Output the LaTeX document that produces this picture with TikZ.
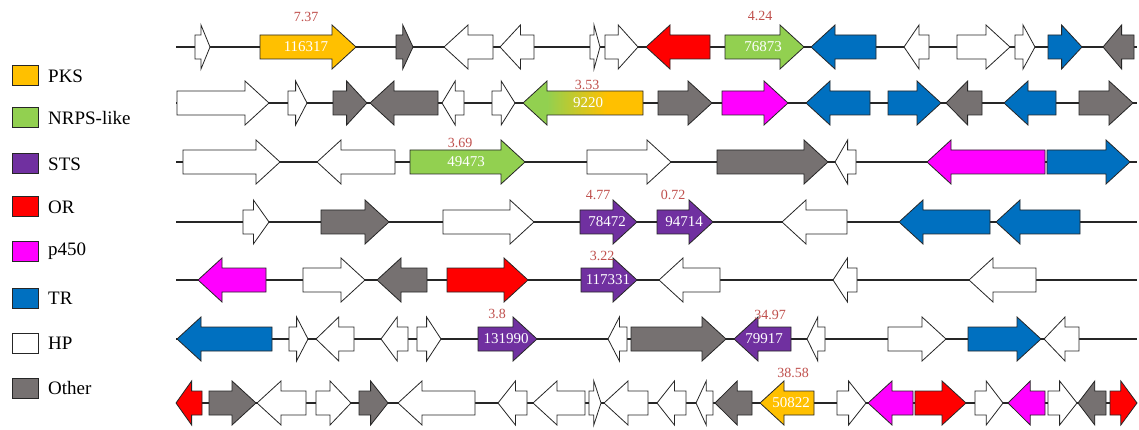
\documentclass[tikz,border=0pt]{standalone}
\usepackage{fontspec}
\setmainfont{Liberation Serif}
\definecolor{pksc}{HTML}{FFC000}
\definecolor{nrpsc}{HTML}{92D050}
\definecolor{stsc}{HTML}{7030A0}
\definecolor{orc}{HTML}{FF0000}
\definecolor{p450c}{HTML}{FF00FF}
\definecolor{trc}{HTML}{0070C0}
\definecolor{hpc}{HTML}{FFFFFF}
\definecolor{othc}{HTML}{767171}
\definecolor{scorec}{HTML}{C0504D}
\pgfdeclarehorizontalshading{nrpspks}{100bp}{color(0bp)=(nrpsc); color(35bp)=(nrpsc); color(60bp)=(pksc); color(100bp)=(pksc)}
\tikzset{
  gene/.style={draw=black!85, line width=0.8pt, line join=miter},
  rowline/.style={draw=black!85, line width=1.8pt},
  glab/.style={text=white, font=\fontsize{15}{15}\selectfont, inner sep=0pt},
  score/.style={text=scorec, font=\fontsize{14}{14}\selectfont, inner sep=0pt},
  legbox/.style={draw=black!85, line width=1pt, minimum width=26pt, minimum height=20pt, inner sep=0pt},
  legtxt/.style={anchor=west, font=\fontsize{19}{19}\selectfont, inner sep=0pt}
}
% #1 options, #2 y, #3 x start, #4 x end, #5 direction (1 right, -1 left)
\newcommand\genearrow[5]{%
  \pgfmathsetmacro\gL{#4-#3}%
  \pgfmathsetmacro\gH{min(24,0.6*\gL)}%
  \ifnum#5>0
    \pgfmathsetmacro\gM{#4-\gH}%
    \draw[gene,#1] (#3,#2-12) -- (\gM,#2-12) -- (\gM,#2-22) -- (#4,#2) -- (\gM,#2+22) -- (\gM,#2+12) -- (#3,#2+12) -- cycle;
  \else
    \pgfmathsetmacro\gM{#3+\gH}%
    \draw[gene,#1] (#4,#2-12) -- (\gM,#2-12) -- (\gM,#2-22) -- (#3,#2) -- (\gM,#2+22) -- (\gM,#2+12) -- (#4,#2+12) -- cycle;
  \fi}
\begin{document}
\begin{tikzpicture}[x=1pt,y=-1pt]
\useasboundingbox[fill=white] (0,0) rectangle (1139,430);
% legend
\foreach \c/\t/\yy [count=\i] in {pksc/PKS/76, nrpsc/NRPS-like/118, stsc/STS/164, orc/OR/207, p450c/p450/251, trc/TR/298, hpc/HP/343, othc/Other/388}{
  \node[legbox, fill=\c] (lb\i) at (25,\yy) {};
  \node[legtxt] (lt\i) at (48,\yy) {\t};
}
% backbone lines
\foreach \yy in {47,103,162,222,280,339,403}{
  \draw[rowline] (176,\yy) -- (1137,\yy);
}
% row 1
\foreach \s/\a/\b/\d in {hpc/195/210/1, pksc/260/356/1, othc/396/413/1, hpc/444/493/-1, hpc/500/534/-1, hpc/590/600/1, hpc/605/638/1, orc/646/710/-1, nrpsc/725/804/1, trc/811/876/-1, hpc/904/929/-1, hpc/957/1010/1, hpc/1015/1035/1, trc/1048/1082/1, othc/1103/1134/-1}
  {\genearrow{fill=\s}{47}{\a}{\b}{\d}}
% row 2
\foreach \s/\a/\b/\d in {hpc/177/269/1, hpc/288/307/1, othc/333/367/1, othc/370/438/-1, hpc/442/464/-1, hpc/492/515/1, othc/658/712/1, p450c/722/788/1, trc/806/870/-1, trc/888/941/1, othc/946/982/-1, trc/1004/1056/-1, othc/1079/1133/1}
  {\genearrow{fill=\s}{103}{\a}{\b}{\d}}
\genearrow{shade, shading=nrpspks}{103}{523}{643}{-1}
% row 3
\foreach \s/\a/\b/\d in {hpc/183/280/1, hpc/317/395/-1, nrpsc/410/525/1, hpc/587/671/1, othc/717/828/1, hpc/835/856/-1, p450c/927/1045/-1, trc/1047/1130/1}
  {\genearrow{fill=\s}{162}{\a}{\b}{\d}}
% row 4
\foreach \s/\a/\b/\d in {hpc/243/269/1, othc/321/389/1, hpc/443/534/1, stsc/580/637/1, stsc/657/713/1, hpc/782/847/-1, trc/899/990/-1, trc/996/1080/-1}
  {\genearrow{fill=\s}{222}{\a}{\b}{\d}}
% row 5
\foreach \s/\a/\b/\d in {p450c/198/266/-1, hpc/303/365/1, othc/377/427/-1, orc/447/528/1, stsc/581/637/1, hpc/659/720/-1, hpc/833/857/-1, hpc/969/1036/-1}
  {\genearrow{fill=\s}{280}{\a}{\b}{\d}}
% row 6
\foreach \s/\a/\b/\d in {trc/177/272/-1, hpc/289/308/1, hpc/316/354/-1, hpc/381/408/-1, hpc/417/441/1, stsc/478/537/1, hpc/608/627/-1, othc/631/726/1, stsc/734/791/-1, hpc/807/825/-1, hpc/888/946/1, trc/968/1041/1, hpc/1044/1079/-1}
  {\genearrow{fill=\s}{339}{\a}{\b}{\d}}
% row 7
\foreach \s/\a/\b/\d in {orc/176/202/-1, othc/209/256/1, hpc/257/306/-1, hpc/316/351/1, othc/359/388/1, hpc/398/475/-1, hpc/498/527/-1, hpc/533/585/-1, hpc/589/601/1, hpc/604/648/-1, hpc/657/686/-1, hpc/696/713/-1, othc/715/752/-1, pksc/760/814/-1, hpc/837/866/1, p450c/868/913/-1, orc/915/966/1, hpc/975/1003/1, p450c/1008/1045/-1, hpc/1048/1077/1, othc/1078/1106/-1, orc/1110/1137/1}
  {\genearrow{fill=\s}{403}{\a}{\b}{\d}}
% labels inside arrows
\node[glab] (g116317) at (306,47) {116317};
\node[glab] (g76873) at (763,47) {76873};
\node[glab] (g9220) at (588,103) {9220};
\node[glab] (g49473) at (466,162) {49473};
\node[glab] (g78472) at (607,222) {78472};
\node[glab] (g94714) at (684,222) {94714};
\node[glab] (g117331) at (608,280) {117331};
\node[glab] (g131990) at (506,339) {131990};
\node[glab] (g79917) at (764,339) {79917};
\node[glab] (g50822) at (791,403) {50822};
% scores
\node[score] (s1) at (306,17) {7.37};
\node[score] (s2) at (760,16) {4.24};
\node[score] (s3) at (587,85) {3.53};
\node[score] (s4) at (460,143) {3.69};
\node[score] (s5) at (598,195) {4.77};
\node[score] (s6) at (673,195) {0.72};
\node[score] (s7) at (602,256) {3.22};
\node[score] (s8) at (497,314) {3.8};
\node[score] (s9) at (770,315) {34.97};
\node[score] (s10) at (793,373) {38.58};
\end{tikzpicture}
\end{document}
